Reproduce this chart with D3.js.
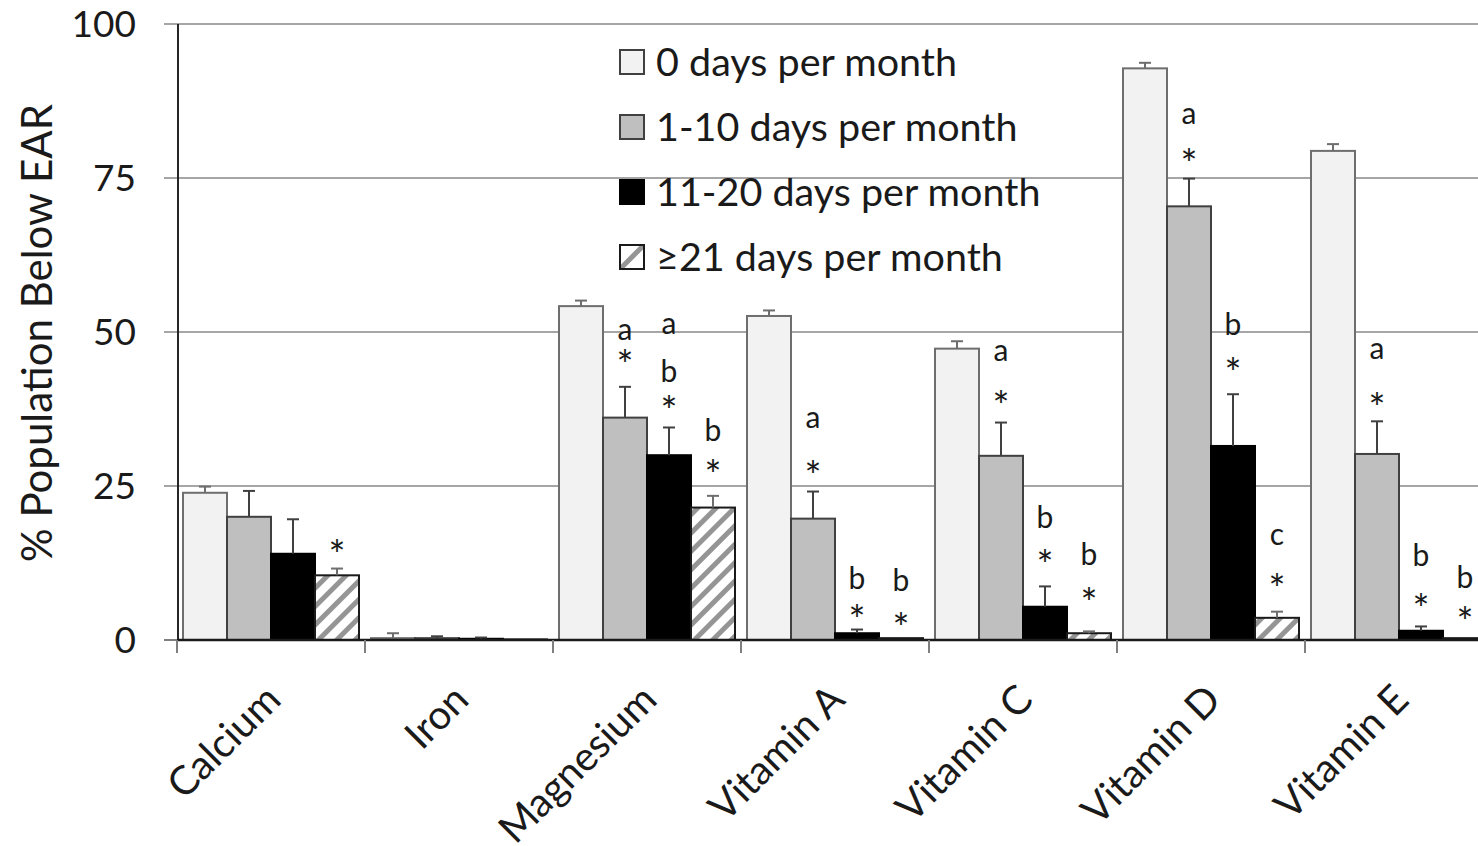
<!DOCTYPE html>
<html><head><meta charset="utf-8">
<script src="https://cdn.jsdelivr.net/npm/d3@7/dist/d3.min.js"></script>
<style>
html,body{margin:0;padding:0;background:#fff;overflow:hidden}
text{font-family:Lato,"Open Sans",sans-serif;fill:#1a1a1a}
</style></head>
<body>
<svg id="c" width="1478" height="846"></svg>
<script>
// ---- data ----
const categories = ["Calcium","Iron","Magnesium","Vitamin A","Vitamin C","Vitamin D","Vitamin E"];
const seriesNames = ["0 days per month","1-10 days per month","11-20 days per month","\u226521 days per month"];
const values0    = [23.9, 0.3, 54.2, 52.6, 47.3, 92.8, 79.4];
const err0       = [1.0, 0.8, 0.9, 0.9, 1.2, 0.9, 1.1];
const values1to10  = [20.0, 0.3, 36.1, 19.7, 29.9, 70.4, 30.2];
const err1to10     = [4.2, 0.3, 5.0, 4.4, 5.4, 4.5, 5.3];
const values11to20 = [14.0, 0.2, 30.0, 1.1, 5.4, 31.5, 1.5];
const err11to20    = [5.6, 0.2, 4.5, 0.6, 3.3, 8.4, 0.7];
const values21     = [10.5, 0.1, 21.5, 0.3, 1.1, 3.6, 0.3];
const err21        = [1.1, 0.0, 1.9, 0.0, 0.3, 1.0, 0.0];
const yTicks = [0, 25, 50, 75, 100];
const yTitle = "% Population Below EAR";
// annotations: [category index, series index, text, value level]
const annotations = [
  [0,3,"*",15.4],
  [2,1,"a",50.0],[2,1,"*",46.3],
  [2,2,"a",50.9],[2,2,"b",43.6],[2,2,"*",38.7],
  [2,3,"b",34.1],[2,3,"*",28.4],
  [3,1,"a",35.7],[3,1,"*",28.2],
  [3,2,"b",10.1],[3,2,"*",4.9],
  [3,3,"b",9.7],[3,3,"*",3.6],
  [4,1,"a",46.5],[4,1,"*",39.6],
  [4,2,"b",20.0],[4,2,"*",13.8],
  [4,3,"b",14.0],[4,3,"*",7.6],
  [5,1,"a",85.1],[5,1,"*",78.9],
  [5,2,"b",51.3],[5,2,"*",45.0],
  [5,3,"c",16.7],[5,3,"*",9.9],
  [6,1,"a",46.9],[6,1,"*",39.2],
  [6,2,"b",13.8],[6,2,"*",6.7],
  [6,3,"b",10.2],[6,3,"*",4.5]
];

const seriesVals = [values0, values1to10, values11to20, values21];
const seriesErr = [err0, err1to10, err11to20, err21];

// ---- layout ----
const svg = d3.select("#c");
const x0 = 177, step = 188;
const x = d3.scaleBand().domain(categories).range([x0, x0 + step*categories.length]).paddingInner(0).paddingOuter(0);
const xs = d3.scaleBand().domain(d3.range(4)).range([6, step-6]).padding(0);
const y = d3.scaleLinear().domain([0,100]).range([640, 24]);

const defs = svg.append("defs");
const pat = defs.append("pattern").attr("id","hatch").attr("patternUnits","userSpaceOnUse")
  .attr("width",13).attr("height",13).attr("patternTransform","rotate(45)");
pat.append("rect").attr("width",13).attr("height",13).attr("fill","#fff");
pat.append("line").attr("x1",6.5).attr("y1",-1).attr("x2",6.5).attr("y2",14)
  .attr("stroke","#959595").attr("stroke-width",5);
defs.append("clipPath").attr("id","legclip").append("rect")
  .attr("x",0).attr("y",-12).attr("width",24).attr("height",24);

const fills = ["#f2f2f2","#bfbfbf","#000000","url(#hatch)"];
const strokes = ["#6e6e6e","#404040","#000000","#1a1a1a"];
const errCol = ["#6e6e6e","#404040","#404040","#6e6e6e"];

// gridlines
svg.append("g").selectAll("line").data(yTicks.filter(d=>d>0)).join("line")
  .attr("x1",164).attr("x2",1478).attr("y1",d=>y(d)).attr("y2",d=>y(d))
  .attr("stroke","#a6a6a6").attr("stroke-width",2);
svg.append("line").attr("x1",164).attr("x2",178).attr("y1",y(0)).attr("y2",y(0))
  .attr("stroke","#7f7f7f").attr("stroke-width",2);

// y tick labels
svg.append("g").selectAll("text").data(yTicks).join("text")
  .attr("x",136).attr("y",d=>y(d)).attr("dy","0.36em").attr("text-anchor","end")
  .style("font-size","37px").text(d=>d);

// y title
svg.append("text").attr("transform","translate(52,333) rotate(-90)")
  .attr("text-anchor","middle").style("font-size","42px").text(yTitle);

// bars
const groups = svg.append("g").selectAll("g").data(categories).join("g")
  .attr("transform",d=>`translate(${x(d)},0)`);
seriesVals.forEach((vals, si) => {
  groups.append("rect")
    .attr("x", xs(si)).attr("width", xs.bandwidth())
    .attr("y", (d,i)=>y(vals[i])).attr("height",(d,i)=>y(0)-y(vals[i]))
    .attr("fill", fills[si]).attr("stroke", strokes[si]).attr("stroke-width",2);
});
// error bars
seriesVals.forEach((vals, si) => {
  const errs = seriesErr[si];
  groups.each(function(d,i){
    if (errs[i] <= 0) return;
    const g = d3.select(this);
    const cx = xs(si) + xs.bandwidth()/2;
    g.append("line").attr("x1",cx).attr("x2",cx).attr("y1",y(vals[i])).attr("y2",y(vals[i]+errs[i]))
      .attr("stroke",errCol[si]).attr("stroke-width",2);
    g.append("line").attr("x1",cx-6).attr("x2",cx+6).attr("y1",y(vals[i]+errs[i])).attr("y2",y(vals[i]+errs[i]))
      .attr("stroke",errCol[si]).attr("stroke-width",2);
  });
});

// axes lines
svg.append("line").attr("x1",178).attr("x2",178).attr("y1",y(100)).attr("y2",y(0))
  .attr("stroke","#262626").attr("stroke-width",2);
svg.append("line").attr("x1",177).attr("x2",1478).attr("y1",y(0)).attr("y2",y(0))
  .attr("stroke","#1a1a1a").attr("stroke-width",2.5);
svg.append("g").selectAll("line").data(categories).join("line")
  .attr("x1",d=>x(d)).attr("x2",d=>x(d)).attr("y1",y(0)).attr("y2",y(0)+13)
  .attr("stroke","#7f7f7f").attr("stroke-width",2);

// category labels
svg.append("g").selectAll("text").data(categories).join("text")
  .attr("transform",d=>`translate(${x(d)+x.bandwidth()/2+2},${692}) rotate(-45)`)
  .attr("text-anchor","end").attr("dy","0.35em").style("font-size","40px").text(d=>d);

// annotations
const dyFor = {"a":"0.26em","c":"0.26em","b":"0.36em","*":"0.62em"};
const sizeFor = {"a":"30px","b":"30px","c":"30px","*":"40px"};
svg.append("g").selectAll("text").data(annotations).join("text")
  .attr("x",d=>x(categories[d[0]]) + xs(d[1]) + xs.bandwidth()/2)
  .attr("y",d=>y(d[3])).attr("dy",d=>dyFor[d[2]])
  .attr("text-anchor","middle").style("font-size",d=>sizeFor[d[2]]).text(d=>d[2]);

// legend
const leg = svg.append("g").selectAll("g").data(seriesNames).join("g")
  .attr("transform",(d,i)=>`translate(620,${62 + i*65})`);
leg.append("rect").attr("x",0).attr("y",-12).attr("width",24).attr("height",24)
  .attr("fill",(d,i)=> i===3 ? "#ffffff" : fills[i]);
leg.filter((d,i)=>i===3).append("line")
  .attr("x1",-2).attr("y1",14).attr("x2",26).attr("y2",-14)
  .attr("stroke","#959595").attr("stroke-width",5).attr("clip-path","url(#legclip)");
leg.append("rect").attr("x",0).attr("y",-12).attr("width",24).attr("height",24)
  .attr("fill","none")
  .attr("stroke",(d,i)=> i===0 ? "#404040" : strokes[i]).attr("stroke-width",2);
leg.append("text").attr("x",36).attr("y",0).attr("dy","0.36em")
  .style("font-size","39.5px").text(d=>d);
</script>
</body></html>
